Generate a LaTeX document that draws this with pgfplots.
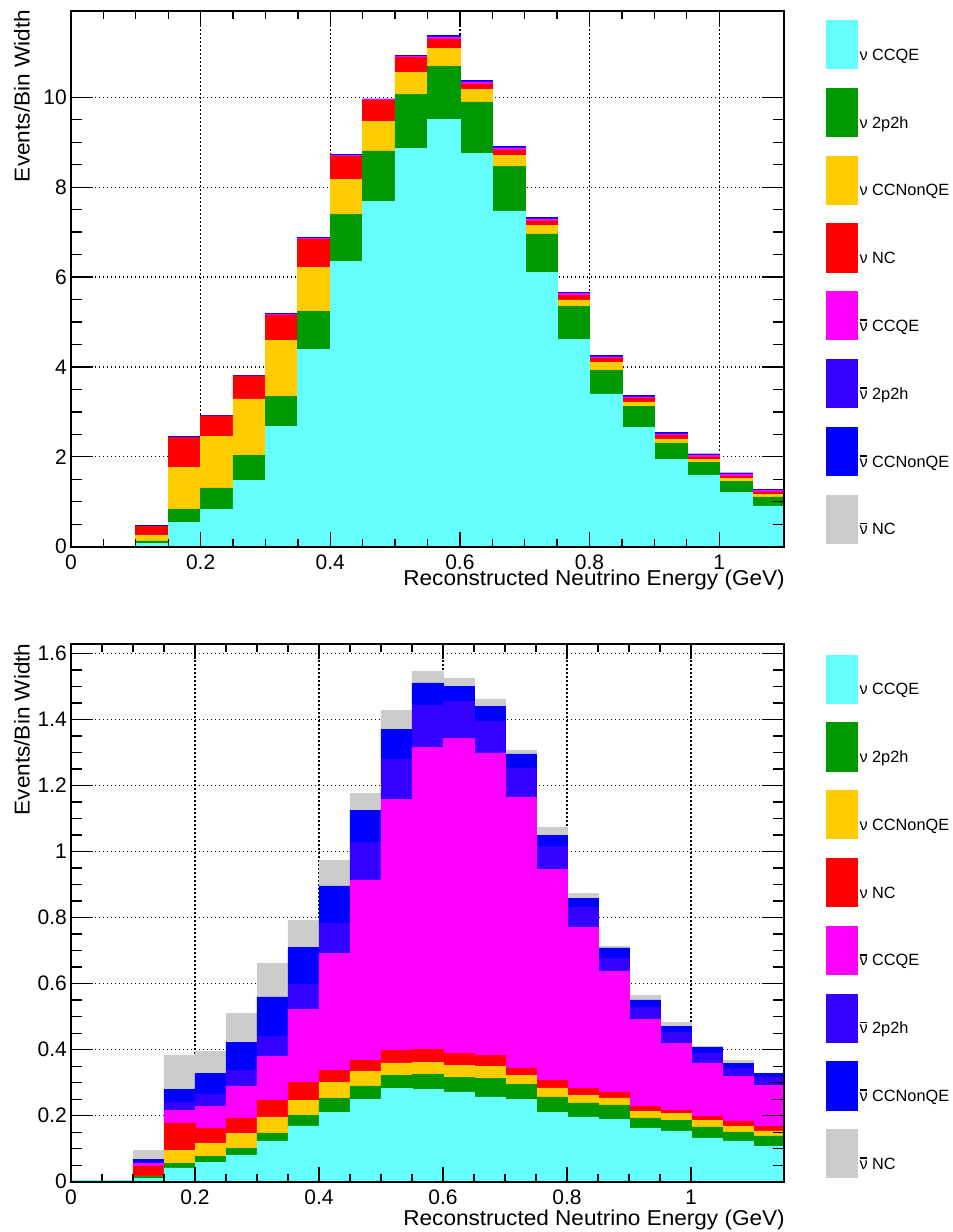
\documentclass[border=0pt]{standalone}
\usepackage{fontspec}
\setmainfont{Liberation Sans}
\usepackage{pgfplots}
\usepackage{pgfplotstable}
\pgfplotsset{compat=1.18}

\newfontfamily\labfamily[FakeStretch=1.05]{Liberation Sans}
\newcommand\labfont{\labfamily\fontsize{21.5bp}{24bp}\selectfont}
\newcommand\tickfont{\fontsize{21bp}{24bp}\selectfont}
\newcommand\legfont{\fontsize{16.3bp}{20bp}\selectfont}
\newcommand\nubar{\leavevmode\rlap{\hspace{0.03em}\rule[0.64em]{0.45em}{0.1em}}ν}

\definecolor{cNuCCQE}{HTML}{66FFFF}
\definecolor{cNu2p2h}{HTML}{009900}
\definecolor{cNuCCNonQE}{HTML}{FFCC00}
\definecolor{cNuNC}{HTML}{FF0000}
\definecolor{cAnuCCQE}{HTML}{FF00FF}
\definecolor{cAnu2p2h}{HTML}{3300FF}
\definecolor{cAnuCCNonQE}{HTML}{0000FF}
\definecolor{cAnuNC}{HTML}{CCCCCC}

% Events / bin width per interaction channel, bin centres (bin width 0.05 GeV)
% neutrino-mode sample
\pgfplotstableread{
x     nuqe  nu2p  nunon nunc  aqe    a2p    anon   anc
0.025 0.010 0.005 0     0     0      0      0      0
0.075 0.010 0.005 0     0     0      0      0      0
0.125 0.07  0.06  0.13  0.19  0.010  0.004  0.004  0.002
0.175 0.54  0.30  0.92  0.67  0.010  0.004  0.004  0.002
0.225 0.83  0.48  1.14  0.45  0.010  0.004  0.004  0.002
0.275 1.48  0.56  1.25  0.50  0.010  0.004  0.004  0.002
0.325 2.67  0.67  1.25  0.57  0.015  0.006  0.006  0.003
0.375 4.39  0.84  0.98  0.64  0.015  0.006  0.006  0.003
0.425 6.35  1.04  0.78  0.52  0.020  0.008  0.008  0.004
0.475 7.68  1.13  0.66  0.46  0.020  0.008  0.008  0.004
0.525 8.86  1.20  0.50  0.32  0.030  0.012  0.012  0.006
0.575 9.50  1.19  0.39  0.22  0.040  0.016  0.016  0.008
0.625 8.75  1.15  0.27  0.13  0.040  0.016  0.016  0.008
0.675 7.47  0.99  0.25  0.12  0.045  0.018  0.018  0.009
0.725 6.10  0.86  0.19  0.10  0.040  0.016  0.016  0.008
0.775 4.62  0.73  0.14  0.10  0.040  0.016  0.016  0.008
0.825 3.40  0.53  0.17  0.09  0.035  0.014  0.014  0.007
0.875 2.65  0.47  0.10  0.08  0.035  0.014  0.014  0.007
0.925 1.95  0.36  0.09  0.07  0.040  0.016  0.016  0.008
0.975 1.60  0.28  0.07  0.05  0.035  0.014  0.014  0.007
1.025 1.21  0.25  0.06  0.05  0.040  0.016  0.016  0.008
1.075 0.91  0.20  0.06  0.05  0.030  0.012  0.012  0.006
}\nutab

% antineutrino-mode sample
\pgfplotstableread{
x     nuqe  nu2p  nunon nunc  aqe    a2p    anon   anc
0.025 0.003 0.001 0     0     0      0      0      0
0.075 0.003 0.001 0     0     0      0      0      0
0.125 0.010 0.005 0.003 0.030 0.007  0.002  0.011  0.026
0.175 0.042 0.013 0.039 0.084 0.039  0.024  0.039  0.103
0.225 0.058 0.018 0.040 0.045 0.068  0.036  0.063  0.068
0.275 0.081 0.019 0.046 0.047 0.097  0.047  0.085  0.088
0.325 0.124 0.024 0.048 0.052 0.132  0.060  0.120  0.101
0.375 0.169 0.032 0.046 0.055 0.219  0.076  0.112  0.083
0.425 0.211 0.042 0.048 0.036 0.355  0.090  0.114  0.078
0.475 0.250 0.040 0.044 0.034 0.546  0.113  0.099  0.051
0.525 0.282 0.040 0.038 0.038 0.760  0.123  0.090  0.057
0.575 0.279 0.047 0.036 0.038 0.916  0.127  0.068  0.035
0.625 0.272 0.045 0.035 0.036 0.954  0.113  0.045  0.026
0.675 0.257 0.057 0.035 0.033 0.917  0.096  0.045  0.023
0.725 0.250 0.045 0.028 0.022 0.821  0.088  0.042  0.012
0.775 0.211 0.046 0.027 0.023 0.639  0.069  0.035  0.024
0.825 0.196 0.043 0.022 0.021 0.488  0.061  0.028  0.014
0.875 0.188 0.045 0.021 0.018 0.366  0.040  0.030  0.005
0.925 0.163 0.030 0.021 0.015 0.262  0.038  0.022  0.013
0.975 0.154 0.032 0.020 0.011 0.203  0.033  0.018  0.012
1.025 0.133 0.033 0.020 0.013 0.161  0.030  0.016  0.004
1.075 0.124 0.027 0.017 0.016 0.136  0.024  0.014  0.010
1.125 0.108 0.031 0.015 0.014 0.124  0.025  0.012  0.001
}\anutab

\pgfplotsset{
  leg/.style={legend image code/.code={\fill[##1] (0bp,-8.3bp) rectangle (31bp,40bp);}},
  comp/.style={fill=#1, draw=#1, line width=0.5bp, leg},
  histo/.style={
    scale only axis, width=713bp,
    ybar stacked, bar width=0.0505,
    xmin=0, ymin=0,
    set layers, axis on top,
    axis line style={line width=2bp},
    tick style={line width=1.3bp, black},
    major tick length=22bp, minor tick length=11bp,
    xtick style={/pgfplots/major tick length=15bp, /pgfplots/minor tick length=8bp},
    tick align=inside, tick pos=both,
    minor x tick num=3, minor y tick num=3,
    xtick={0,0.2,0.4,0.6,0.8,1},
    grid=major,
    major grid style={black, line width=1.3bp, dash pattern=on 1.3bp off 2.7bp,
      /pgfplots/on layer=axis background},
    /pgf/number format/assume math mode=true,
    xticklabel style={font=\tickfont, inner sep=0pt, yshift=-8bp},
    yticklabel style={font=\tickfont, inner sep=0pt, xshift=-4bp},
    xlabel={Reconstructed Neutrino Energy (GeV)},
    ylabel={Events/Bin Width},
    ylabel style={at={(-0.0582,1.002)}, anchor=base east, inner sep=0pt, font=\labfont},
    xlabel style={anchor=base east, inner sep=0pt, font=\labfont},
    legend style={draw=none, fill=none, inner sep=0pt, outer sep=0pt,
      anchor=north west, row sep=19bp, font=\legfont,
      cells={anchor=base west}, nodes={inner sep=0pt},
      /tikz/every odd column/.append style={column sep=2bp}},
  },
}

\begin{document}
\begin{tikzpicture}

% neutrino-mode spectrum
\begin{axis}[histo, at={(71bp,685.3bp)}, anchor=south west, height=535.7bp,
  xmax=1.1, ymax=11.92, ytick={0,2,4,6,8,10},
  xlabel style={at={(1.0014,-0.0725)}},
  legend style={at={(1.0589,0.9832)}}]
\addplot[comp=cNuCCQE]     table[x=x, y=nuqe]{\nutab};  \addlegendentry{ν CCQE}
\addplot[comp=cNu2p2h]     table[x=x, y=nu2p]{\nutab};  \addlegendentry{ν 2p2h}
\addplot[comp=cNuCCNonQE]  table[x=x, y=nunon]{\nutab}; \addlegendentry{ν CCNonQE}
\addplot[comp=cNuNC]       table[x=x, y=nunc]{\nutab};  \addlegendentry{ν NC}
\addplot[comp=cAnuCCQE]    table[x=x, y=aqe]{\nutab};   \addlegendentry{\nubar{} CCQE}
\addplot[comp=cAnu2p2h]    table[x=x, y=a2p]{\nutab};   \addlegendentry{\nubar{} 2p2h}
\addplot[comp=cAnuCCNonQE] table[x=x, y=anon]{\nutab};  \addlegendentry{\nubar{} CCNonQE}
\addplot[comp=cAnuNC]      table[x=x, y=anc]{\nutab};   \addlegendentry{\nubar{} NC}
\end{axis}

% antineutrino-mode spectrum
\begin{axis}[histo, at={(71bp,50.3bp)}, anchor=south west, height=537.4bp,
  xmax=1.15, ymax=1.628, ytick={0,0.2,0.4,0.6,0.8,1,1.2,1.4,1.6},
  xlabel style={at={(1.0014,-0.0815)}},
  legend style={at={(1.0589,0.981)}}]
\addplot[comp=cNuCCQE]     table[x=x, y=nuqe]{\anutab};  \addlegendentry{ν CCQE}
\addplot[comp=cNu2p2h]     table[x=x, y=nu2p]{\anutab};  \addlegendentry{ν 2p2h}
\addplot[comp=cNuCCNonQE]  table[x=x, y=nunon]{\anutab}; \addlegendentry{ν CCNonQE}
\addplot[comp=cNuNC]       table[x=x, y=nunc]{\anutab};  \addlegendentry{ν NC}
\addplot[comp=cAnuCCQE]    table[x=x, y=aqe]{\anutab};   \addlegendentry{\nubar{} CCQE}
\addplot[comp=cAnu2p2h]    table[x=x, y=a2p]{\anutab};   \addlegendentry{\nubar{} 2p2h}
\addplot[comp=cAnuCCNonQE] table[x=x, y=anon]{\anutab};  \addlegendentry{\nubar{} CCNonQE}
\addplot[comp=cAnuNC]      table[x=x, y=anc]{\anutab};   \addlegendentry{\nubar{} NC}
\end{axis}

% page frame
\pgfresetboundingbox
\path[use as bounding box] (0,0) rectangle (953bp,1232bp);
\end{tikzpicture}
\end{document}
